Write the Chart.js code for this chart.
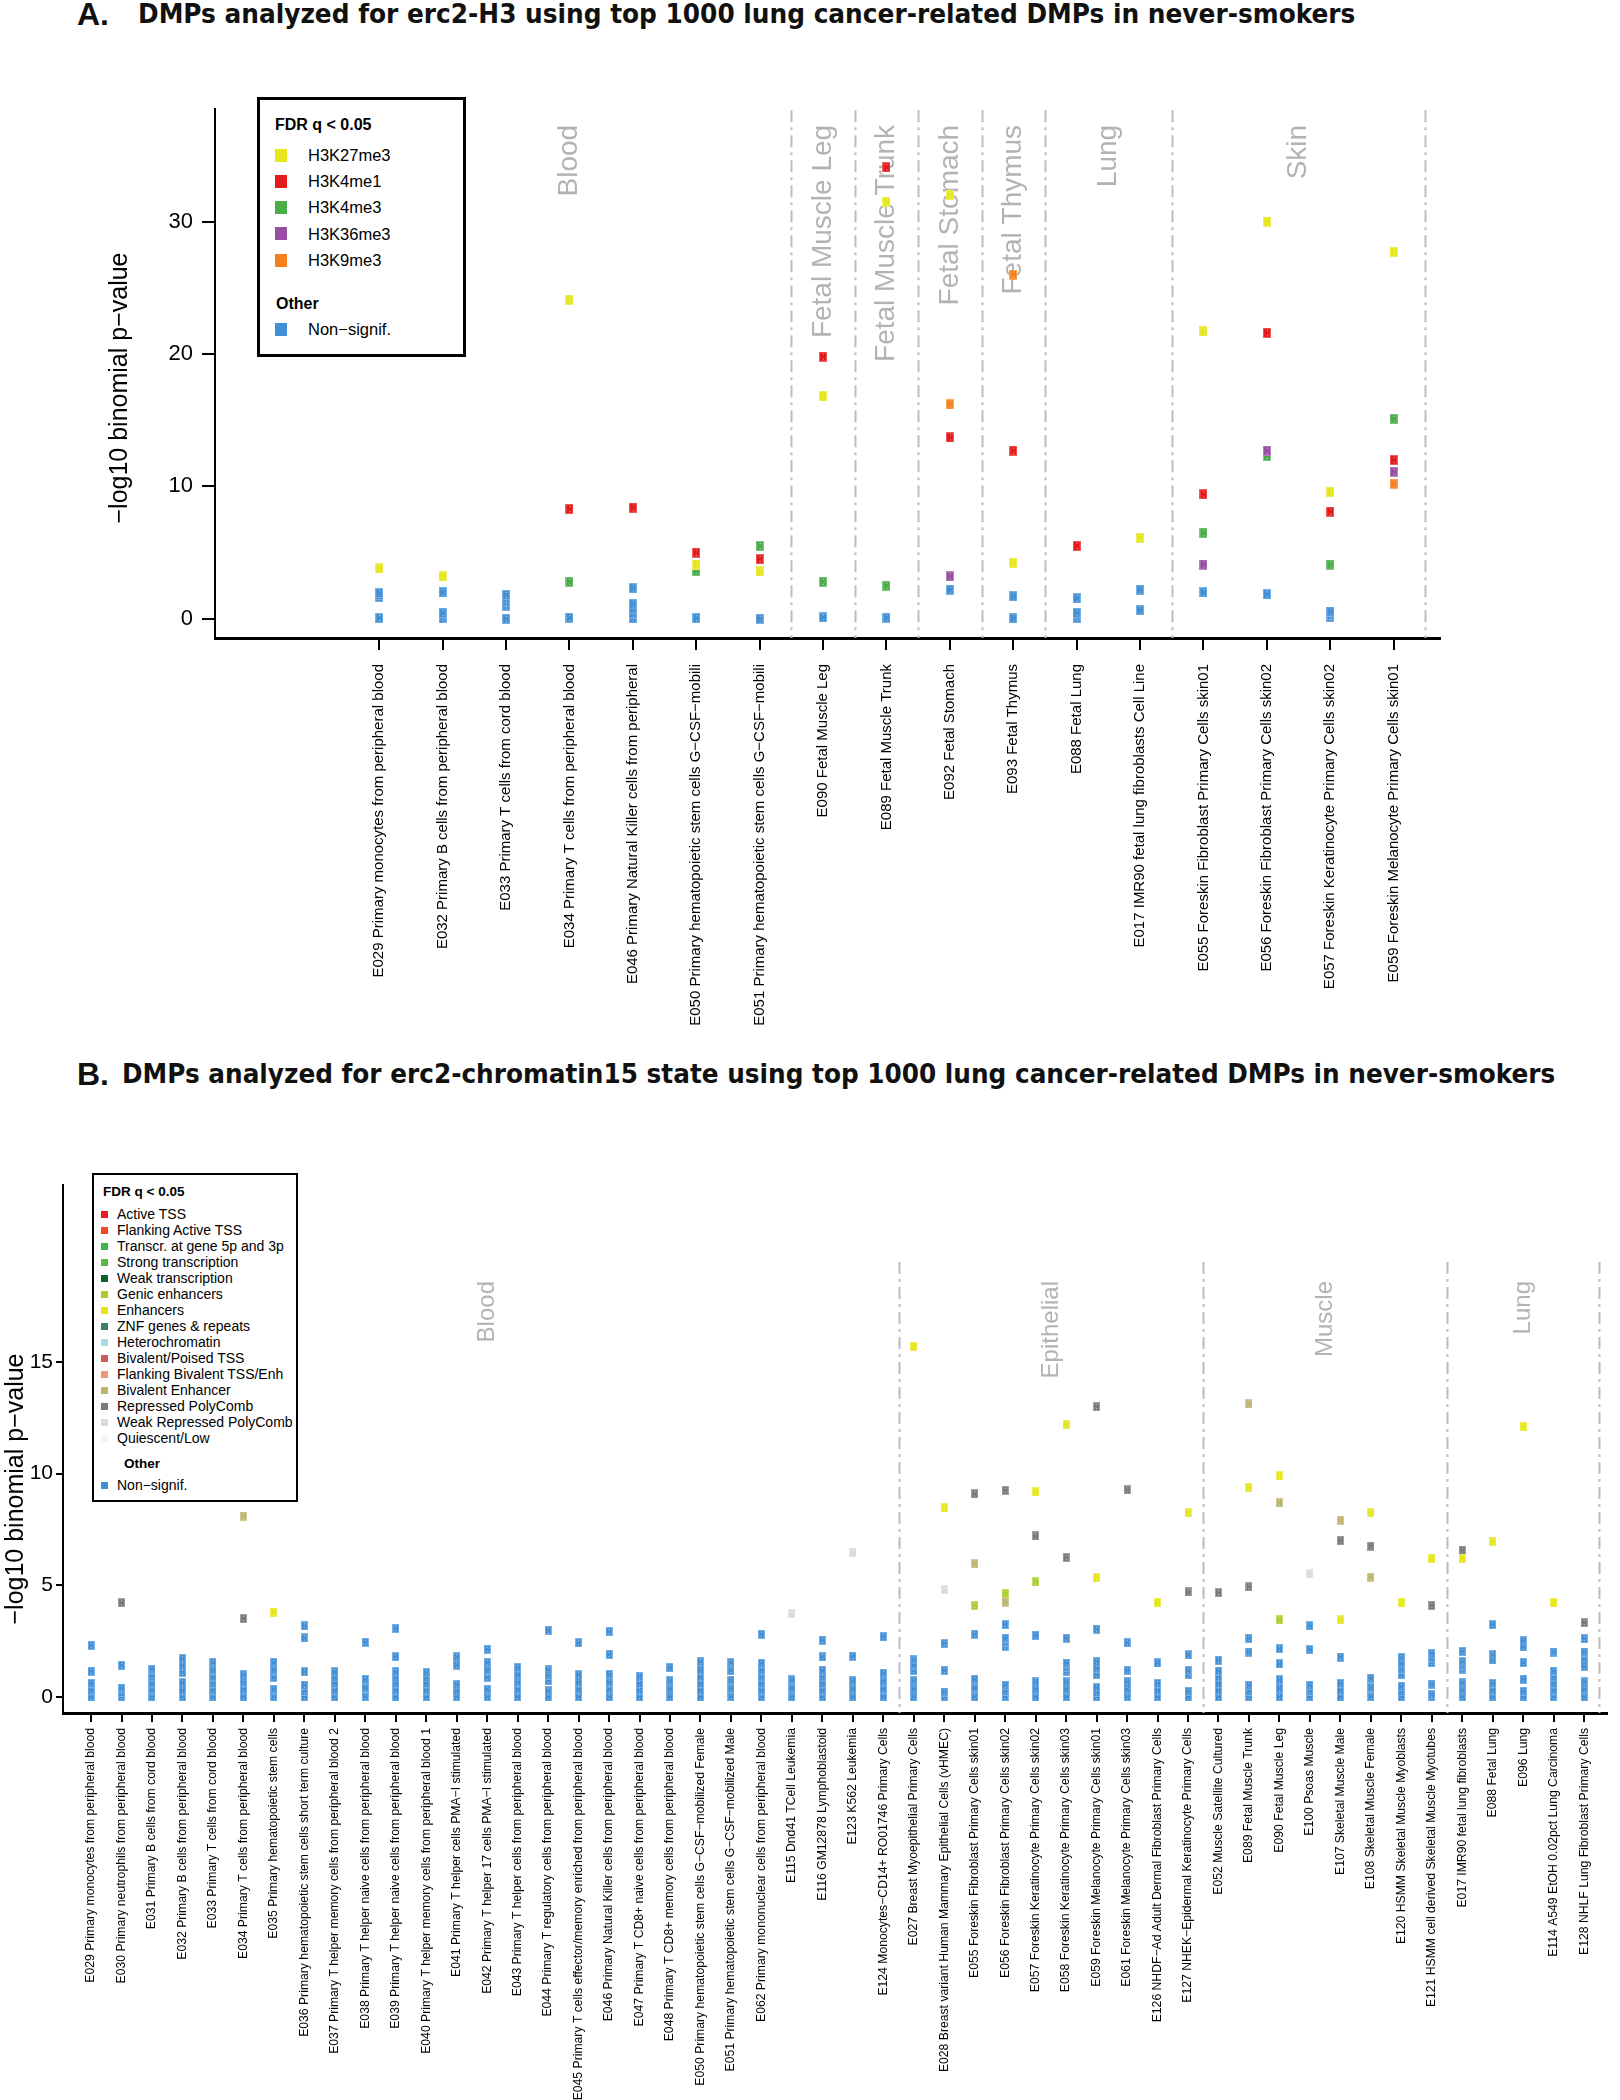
<!DOCTYPE html>
<html>
<head>
<meta charset="utf-8">
<script src="https://cdn.jsdelivr.net/npm/chart.js@4.4.1/dist/chart.umd.min.js"></script>
<style>
    body { margin: 0; background: #fff; width: 1620px; height: 2100px; position: relative; overflow: hidden;
           font-family: 'Liberation Sans', Arial, sans-serif; color: #000; }
    canvas { position: absolute; left: 0; }
    #chartA { top: 0; }
    #chartB { top: 1040px; }
    .heading { position: absolute; white-space: nowrap; font-weight: bold; color: #111; transform-origin: 0 0; }
    .narrow { font-family: 'Liberation Sans Narrow', 'DejaVu Sans Condensed', 'Liberation Sans', Arial, sans-serif; }
    .legend { position: absolute; box-sizing: border-box; border: 3px solid #000; background: #fff; }
    .legend div { position: absolute; white-space: nowrap; }
</style>
</head>
<body>
<div class="heading" style="left:77px; top:-2px; font-size:32px; line-height:32px;">A.</div>
<div class="heading narrow" id="titleA" style="left:138px; top:0px; font-size:27px; line-height:27px;">DMPs analyzed for erc2-H3 using top 1000 lung cancer-related DMPs in never-smokers</div>
<div class="heading" style="left:77px; top:1058px; font-size:32px; line-height:32px;">B.</div>
<div class="heading narrow" id="titleB" style="left:122px; top:1060px; font-size:27px; line-height:27px;">DMPs analyzed for erc2-chromatin15 state using top 1000 lung cancer-related DMPs in never-smokers</div>

<canvas id="chartA" width="1620" height="1035"></canvas>
<canvas id="chartB" width="1620" height="1060"></canvas>
<div class="legend" id="legendA"></div>
<div class="legend" id="legendB"></div>

<script>
// ---------- Panel A data (erc2-H3) ----------
const samplesA = [
    'E029 Primary monocytes from peripheral blood',
    'E032 Primary B cells from peripheral blood',
    'E033 Primary T cells from cord blood',
    'E034 Primary T cells from peripheral blood',
    'E046 Primary Natural Killer cells from peripheral',
    'E050 Primary hematopoietic stem cells G\u2212CSF\u2212mobili',
    'E051 Primary hematopoietic stem cells G\u2212CSF\u2212mobili',
    'E090 Fetal Muscle Leg',
    'E089 Fetal Muscle Trunk',
    'E092 Fetal Stomach',
    'E093 Fetal Thymus',
    'E088 Fetal Lung',
    'E017 IMR90 fetal lung fibroblasts Cell Line',
    'E055 Foreskin Fibroblast Primary Cells skin01',
    'E056 Foreskin Fibroblast Primary Cells skin02',
    'E057 Foreskin Keratinocyte Primary Cells skin02',
    'E059 Foreskin Melanocyte Primary Cells skin01'
];
const groupNamesA = ['Blood', 'Fetal Muscle Leg', 'Fetal Muscle Trunk', 'Fetal Stomach', 'Fetal Thymus', 'Lung', 'Skin'];
const groupSizesA = [7, 1, 1, 1, 1, 2, 4];
const yTicksA = [0, 10, 20, 30];
const marksA = ['H3K27me3', 'H3K4me1', 'H3K4me3', 'H3K36me3', 'H3K9me3'];

const _ = null;
const h3k27me3A = [3.8, 3.2, _, 24.1, _, 4.1, 3.6, 16.8, 31.5, 32.0, 4.2, _, 6.1, 21.7, 30.0, 9.6, 27.7];
const h3k4me1A  = [_, _, _, 8.3, 8.4, 5.0, 4.5, 19.8, 34.1, 13.7, 12.7, 5.5, _, 9.4, 21.6, 8.1, 12.0];
const h3k4me3A  = [_, _, _, 2.8, _, 3.6, 5.5, 2.8, 2.5, _, _, _, _, 6.5, 12.3, 4.1, 15.1];
const h3k36me3A = [_, _, _, _, _, _, _, _, _, 3.2, _, _, _, 4.1, 12.7, _, 11.1];
const h3k9me3A  = [_, _, _, _, _, _, _, _, _, 16.2, 26.0, _, _, _, _, _, 10.2];
const nonSignifA = [
    [0.05, 1.65, 1.8, 1.95], [0.05, 0.25, 0.45, 2.0], [0, 1.0, 1.3, 1.55, 1.8], [0.08],
    [0.05, 0.4, 0.75, 1.1, 2.3], [0.05], [0], [0.1], [0.08], [2.2], [0.03, 1.7],
    [0.05, 0.25, 0.45, 1.55], [0.65, 2.2], [2.0], [1.85], [0.1, 0.3, 0.55], []
];

// ---------- Panel B data (erc2-chromatin15) ----------
const samplesB = [
    'E029 Primary monocytes from peripheral blood',
    'E030 Primary neutrophils from peripheral blood',
    'E031 Primary B cells from cord blood',
    'E032 Primary B cells from peripheral blood',
    'E033 Primary T cells from cord blood',
    'E034 Primary T cells from peripheral blood',
    'E035 Primary hematopoietic stem cells',
    'E036 Primary hematopoietic stem cells short term culture',
    'E037 Primary T helper memory cells from peripheral blood 2',
    'E038 Primary T helper naive cells from peripheral blood',
    'E039 Primary T helper naive cells from peripheral blood',
    'E040 Primary T helper memory cells from peripheral blood 1',
    'E041 Primary T helper cells PMA\u2212I stimulated',
    'E042 Primary T helper 17 cells PMA\u2212I stimulated',
    'E043 Primary T helper cells from peripheral blood',
    'E044 Primary T regulatory cells from peripheral blood',
    'E045 Primary T cells effector/memory enriched from peripheral blood',
    'E046 Primary Natural Killer cells from peripheral blood',
    'E047 Primary T CD8+ naive cells from peripheral blood',
    'E048 Primary T CD8+ memory cells from peripheral blood',
    'E050 Primary hematopoietic stem cells G\u2212CSF\u2212mobilized Female',
    'E051 Primary hematopoietic stem cells G\u2212CSF\u2212mobilized Male',
    'E062 Primary mononuclear cells from peripheral blood',
    'E115 Dnd41 TCell Leukemia',
    'E116 GM12878 Lymphoblastoid',
    'E123 K562 Leukemia',
    'E124 Monocytes\u2212CD14+ RO01746 Primary Cells',
    'E027 Breast Myoepithelial Primary Cells',
    'E028 Breast variant Human Mammary Epithelial Cells (vHMEC)',
    'E055 Foreskin Fibroblast Primary Cells skin01',
    'E056 Foreskin Fibroblast Primary Cells skin02',
    'E057 Foreskin Keratinocyte Primary Cells skin02',
    'E058 Foreskin Keratinocyte Primary Cells skin03',
    'E059 Foreskin Melanocyte Primary Cells skin01',
    'E061 Foreskin Melanocyte Primary Cells skin03',
    'E126 NHDF\u2212Ad Adult Dermal Fibroblast Primary Cells',
    'E127 NHEK\u2212Epidermal Keratinocyte Primary Cells',
    'E052 Muscle Satellite Cultured',
    'E089 Fetal Muscle Trunk',
    'E090 Fetal Muscle Leg',
    'E100 Psoas Muscle',
    'E107 Skeletal Muscle Male',
    'E108 Skeletal Muscle Female',
    'E120 HSMM Skeletal Muscle Myoblasts',
    'E121 HSMM cell derived Skeletal Muscle Myotubes',
    'E017 IMR90 fetal lung fibroblasts',
    'E088 Fetal Lung',
    'E096 Lung',
    'E114 A549 EtOH 0.02pct Lung Carcinoma',
    'E128 NHLF Lung Fibroblast Primary Cells'
];
const groupNamesB = ['Blood', 'Epithelial', 'Muscle', 'Lung'];
const groupSizesB = [27, 10, 8, 5];
const yTicksB = [0, 5, 10, 15];
const statesB = [
    'Active TSS', 'Flanking Active TSS', 'Transcr. at gene 5p and 3p', 'Strong transcription',
    'Weak transcription', 'Genic enhancers', 'Enhancers', 'ZNF genes & repeats', 'Heterochromatin',
    'Bivalent/Poised TSS', 'Flanking Bivalent TSS/Enh', 'Bivalent Enhancer', 'Repressed PolyComb',
    'Weak Repressed PolyComb', 'Quiescent/Low'
];

const enhancersB = [
    _, _, _, _, _, _, 3.8, _, _, _,
    _, _, _, _, _, _, _, _, _, _,
    _, _, _, _, _, _, _, 15.7, 8.49, _,
    _, 9.18, 12.2, 5.34, _, 4.22, 8.24, _, 9.37, 9.9,
    _, 3.46, 8.24, 4.21, 6.19, 6.2, 6.97, 12.1, 4.22, _
];
const genicEnhB = [
    _, _, _, _, _, _, _, _, _, _,
    _, _, _, _, _, _, _, _, _, _,
    _, _, _, _, _, _, _, _, _, 4.1,
    4.64, 5.15, _, _, _, _, _, _, _, 3.46,
    _, _, _, _, _, _, _, _, _, _
];
const bivEnhB = [
    _, _, _, _, _, 8.1, _, _, _, _,
    _, _, _, _, _, _, _, _, _, _,
    _, _, _, _, _, _, _, _, _, 5.97,
    4.25, _, _, _, _, _, _, _, 13.13, 8.69,
    _, 7.91, 5.37, _, _, _, _, _, _, _
];
const reprPolyCombB = [
    _, 4.22, _, _, _, 3.51, _, _, _, _,
    _, _, _, _, _, _, _, _, _, _,
    _, _, _, _, _, _, _, _, _, 9.09,
    9.25, 7.21, 6.24, 13.0, 9.27, _, 4.7, 4.67, 4.93, _,
    _, 7.0, 6.76, _, 4.1, 6.58, _, _, _, 3.33
];
const weakReprPolyCombB = [
    _, _, _, _, _, _, _, _, _, _,
    _, _, _, _, _, _, _, _, _, _,
    _, _, _, 3.73, _, 6.46, _, _, 4.79, _,
    _, _, _, _, _, _, _, _, _, _,
    5.52, _, _, _, _, _, _, _, _, _
];
const nonSignifB = [
    [0, 0.3, 0.6, 1.15, 2.31], [0, 0.2, 0.39, 1.42], [0, 0.3, 0.6, 0.9, 1.24],
    [0, 0.3, 0.64, 1.1, 1.4, 1.72], [0, 0.3, 0.6, 0.9, 1.2, 1.54], [0, 0.33, 0.66, 0.99],
    [0, 0.34, 0.88, 1.2, 1.54], [0, 0.26, 0.52, 1.13, 2.64, 3.18], [0, 0.3, 0.6, 0.85, 1.13],
    [0, 0.4, 0.79, 2.45], [0, 0.3, 0.6, 0.85, 1.13, 1.81, 3.07], [0, 0.3, 0.6, 0.85, 1.09],
    [0, 0.27, 0.54, 1.43, 1.79], [0, 0.34, 0.88, 1.2, 1.54, 2.13], [0, 0.33, 0.66, 0.99, 1.31],
    [0, 0.27, 0.73, 0.97, 1.21, 2.99], [0, 0.33, 0.66, 0.99, 2.43], [0, 0.33, 0.66, 1.01, 1.9, 2.93],
    [0, 0.3, 0.6, 0.9], [0, 0.36, 0.72, 1.31], [0, 0.3, 0.6, 0.9, 1.2, 1.57],
    [0, 0.37, 0.75, 1.18, 1.54], [0, 0.3, 0.6, 0.9, 1.2, 1.51, 2.81], [0, 0.38, 0.76],
    [0, 0.3, 0.6, 0.9, 1.19, 1.79, 2.54], [0, 0.36, 0.72, 1.82], [0, 0.35, 0.7, 1.06, 2.69],
    [0, 0.36, 0.72, 1.18, 1.42, 1.66], [0, 0.22, 1.19, 2.39], [0, 0.4, 0.79, 2.81],
    [0, 0.26, 0.52, 2.27, 2.45, 2.63, 3.24], [0, 0.33, 0.67, 2.76], [0, 0.33, 0.67, 1.15, 1.33, 1.51, 2.63],
    [0, 0.2, 0.41, 0.99, 1.29, 1.58, 3.03], [0, 0.33, 0.67, 1.19, 2.43], [0, 0.3, 0.6, 1.52],
    [0, 0.25, 0.99, 1.18, 1.88], [0, 0.3, 0.6, 0.9, 1.16, 1.64], [0, 0.26, 0.52, 2.01, 2.63],
    [0, 0.38, 0.76, 1.48, 2.16], [0, 0.26, 0.52, 2.12, 3.18], [0, 0.3, 0.6, 1.78],
    [0, 0.42, 0.84], [0, 0.23, 0.46, 0.99, 1.25, 1.5, 1.76], [0, 0.1, 0.57, 1.54, 1.74, 1.94],
    [0, 0.32, 0.63, 1.25, 1.41, 1.57, 2.04], [0, 0.3, 0.6, 1.66, 1.88, 3.24], [0, 0.25, 0.79, 1.54, 2.25, 2.51],
    [0, 0.3, 0.6, 0.9, 1.16, 2.01], [0, 0.33, 0.67, 1.37, 1.7, 2.01, 2.61]
];

// ---------- Styles ----------
const FONT = "'Liberation Sans', Arial, Helvetica, sans-serif";
const BLUE = '#4190d6';
const colorsA = ['#e6e61a', '#e41a1c', '#4aad48', '#984ea3', '#f8801c'];
const stateColorsB = ['#ec1c24', '#f04a24', '#3db54a', '#58b947', '#0d5f2c', '#aacd2f', '#e6e616', '#3a7f6b',
    '#a8dce4', '#cc5a5a', '#ea9679', '#bcb46b', '#7a7a7a', '#dadada', '#f3f5f7'];

Chart.defaults.font.family = FONT;

// Small filled rectangle used as point symbol
function makeMark(color, w, h) {
    const c = document.createElement('canvas');
    c.width = w;
    c.height = h;
    const g = c.getContext('2d');
    g.fillStyle = color;
    g.fillRect(0, 0, w, h);
    g.strokeStyle = 'rgba(255,255,255,0.3)';
    g.lineWidth = 1;
    g.strokeRect(0.5, 0.5, w - 1, h - 1);
    g.fillStyle = 'rgba(255,255,255,0.6)';
    g.fillRect(Math.floor(w / 2), 2, 1, 1);
    g.fillRect(Math.floor(w / 2), h - 3, 1, 1);
    return c;
}

function toPoints(values) {
    return values.map((v, i) => (v === null ? null : { x: i, y: v })).filter(p => p);
}

function toStacks(lists) {
    const pts = [];
    lists.forEach((vals, i) => vals.forEach(v => pts.push({ x: i, y: v })));
    return pts;
}

function markDataset(label, values, color, w, h, order) {
    return {
        label: label,
        data: values,
        pointStyle: makeMark(color, w, h),
        pointRadius: 5,
        order: order
    };
}

// Group separators, group names and y title
const groupPlugin = {
    id: 'groups',
    beforeDatasetsDraw(chart, args, opts) {
        const { ctx, chartArea, scales: { x, y } } = chart;
        ctx.save();
        let start = 0;
        opts.sizes.forEach((n, k) => {
            const end = start + n;
            const sepX = Math.round(x.getPixelForValue(end - 0.5)) + 0.5;
            ctx.strokeStyle = '#bdbdbd';
            ctx.lineWidth = 2;
            ctx.setLineDash([12, 5, 3, 5]);
            ctx.beginPath();
            ctx.moveTo(sepX, y.getPixelForValue(opts.lineTop));
            ctx.lineTo(sepX, chartArea.bottom);
            ctx.stroke();

            const cx = x.getPixelForValue((start + end - 1) / 2);
            ctx.translate(cx, y.getPixelForValue(opts.labelTop));
            ctx.rotate(-Math.PI / 2);
            ctx.fillStyle = '#b3b3b3';
            ctx.font = opts.labelSize + 'px ' + FONT;
            ctx.textAlign = 'right';
            ctx.textBaseline = 'middle';
            ctx.fillText(opts.names[k], 0, 0);
            ctx.setTransform(1, 0, 0, 1, 0, 0);
            start = end;
        });
        ctx.setLineDash([]);
        ctx.translate(opts.titleX, opts.titleY);
        ctx.rotate(-Math.PI / 2);
        ctx.fillStyle = '#000';
        ctx.font = opts.titleSize + 'px ' + FONT;
        ctx.textAlign = 'center';
        ctx.textBaseline = 'middle';
        ctx.fillText('\u2212log10 binomial p\u2212value', 0, 0);
        ctx.restore();
    }
};

function makeChart(id, cfg) {
    return new Chart(document.getElementById(id), {
        type: 'scatter',
        data: { datasets: cfg.datasets },
        options: {
            responsive: false,
            animation: false,
            events: [],
            layout: { padding: cfg.padding },
            plugins: { legend: { display: false }, tooltip: { enabled: false }, groups: cfg.groups },
            scales: {
                x: {
                    type: 'linear',
                    min: cfg.xMin,
                    max: cfg.xMax,
                    afterFit: s => { s.height = cfg.xHeight; },
                    afterBuildTicks: s => { s.ticks = cfg.labels.map((l, i) => ({ value: i })); },
                    ticks: {
                        autoSkip: false, minRotation: 90, maxRotation: 90, padding: cfg.xPad,
                        color: '#000', font: { size: cfg.xFont },
                        callback: v => cfg.labels[v]
                    },
                    grid: { drawOnChartArea: false, drawTicks: true, tickLength: cfg.xTick, color: '#000', lineWidth: 2 },
                    border: { display: true, color: '#000', width: 3 }
                },
                y: {
                    min: cfg.yMin,
                    max: cfg.yMax,
                    afterFit: s => { s.width = cfg.yWidth; },
                    afterBuildTicks: s => { s.ticks = cfg.yTicks.map(v => ({ value: v })); },
                    ticks: { padding: cfg.yPad, color: '#000', font: { size: cfg.yFont } },
                    grid: { drawOnChartArea: false, drawTicks: true, tickLength: cfg.yTick, color: '#000', lineWidth: 2 },
                    border: { display: true, color: '#000', width: 2 }
                }
            }
        },
        plugins: [groupPlugin]
    });
}

// ---------- Panel A chart ----------
const seriesA = [h3k27me3A, h3k4me1A, h3k4me3A, h3k36me3A, h3k9me3A];
const orderA = [1, 2, 5, 3, 4];
const datasetsA = seriesA.map((s, k) => markDataset(marksA[k], toPoints(s), colorsA[k], 8, 10, orderA[k]));
datasetsA.push(markDataset('Non\u2212signif.', toStacks(nonSignifA), BLUE, 8, 10, 10));

makeChart('chartA', {
    datasets: datasetsA,
    labels: samplesA,
    padding: { left: 0, top: 109, right: 180, bottom: 0 },
    xMin: -2.59, xMax: 16.73, xHeight: 397, xPad: 14, xTick: 12, xFont: 15,
    yMin: -1.45, yMax: 38.5, yWidth: 215, yTicks: yTicksA, yPad: 9, yTick: 13, yFont: 22,
    groups: { sizes: groupSizesA, names: groupNamesA, lineTop: 38.4, labelTop: 37.3, labelSize: 28,
              titleX: 120, titleY: 388, titleSize: 25 }
});

// ---------- Panel B chart ----------
const datasetsB = [
    markDataset(statesB[6], toPoints(enhancersB), stateColorsB[6], 7, 9, 1),
    markDataset(statesB[5], toPoints(genicEnhB), stateColorsB[5], 7, 9, 3),
    markDataset(statesB[11], toPoints(bivEnhB), stateColorsB[11], 7, 9, 2),
    markDataset(statesB[12], toPoints(reprPolyCombB), stateColorsB[12], 7, 9, 4),
    markDataset(statesB[13], toPoints(weakReprPolyCombB), stateColorsB[13], 7, 9, 5),
    markDataset('Non\u2212signif.', toStacks(nonSignifB), BLUE, 7, 9, 10)
];

makeChart('chartB', {
    datasets: datasetsB,
    labels: samplesB,
    padding: { left: 0, top: 145, right: 13, bottom: 0 },
    xMin: -0.92, xMax: 49.75, xHeight: 387, xPad: 6, xTick: 9, xFont: 12.2,
    yMin: -0.72, yMax: 22.93, yWidth: 63, yTicks: yTicksB, yPad: 3, yTick: 7, yFont: 21,
    groups: { sizes: groupSizesB, names: groupNamesB, lineTop: 19.48, labelTop: 18.63, labelSize: 24,
              titleX: 16, titleY: 449, titleSize: 25 }
});

// ---------- Legends ----------
function addText(box, text, left, centerY, size, bold) {
    const d = document.createElement('div');
    d.textContent = text;
    d.style.left = left + 'px';
    d.style.top = (centerY - size / 2) + 'px';
    d.style.fontSize = size + 'px';
    d.style.lineHeight = size + 'px';
    if (bold) d.style.fontWeight = 'bold';
    box.appendChild(d);
}

function addSwatch(box, color, left, centerY, w, h) {
    const d = document.createElement('div');
    d.style.left = left + 'px';
    d.style.top = (centerY - h / 2) + 'px';
    d.style.width = w + 'px';
    d.style.height = h + 'px';
    d.style.background = color;
    box.appendChild(d);
}

function buildLegend(id, spec) {
    const box = document.getElementById(id);
    Object.assign(box.style, {
        left: spec.box[0] + 'px', top: spec.box[1] + 'px',
        width: spec.box[2] + 'px', height: spec.box[3] + 'px', borderWidth: spec.border + 'px'
    });
    addText(box, 'FDR q < 0.05', spec.headX, spec.headY, spec.headSize, true);
    spec.names.forEach((name, k) => {
        const cy = spec.rowY + k * spec.rowStep;
        addSwatch(box, spec.colors[k], spec.swX, cy, spec.swW, spec.swH);
        addText(box, name, spec.textX, cy, spec.textSize, false);
    });
    addText(box, 'Other', spec.otherX, spec.otherY, spec.headSize, true);
    addSwatch(box, BLUE, spec.swX, spec.nonSigY, spec.swW, spec.swH);
    addText(box, 'Non\u2212signif.', spec.textX, spec.nonSigY, spec.textSize, false);
}

buildLegend('legendA', {
    box: [257, 97, 209, 260], border: 3,
    headX: 15, headY: 25, headSize: 16,
    names: marksA, colors: colorsA,
    rowY: 55, rowStep: 26.3, swX: 15, swW: 12, swH: 13, textX: 48, textSize: 16.5,
    otherX: 16, otherY: 204, nonSigY: 229
});

buildLegend('legendB', {
    box: [92, 1173, 206, 329], border: 2,
    headX: 9, headY: 17, headSize: 13.5,
    names: statesB, colors: stateColorsB,
    rowY: 39, rowStep: 16, swX: 7, swW: 7, swH: 7, textX: 23, textSize: 14,
    otherX: 30, otherY: 289, nonSigY: 310
});

// ---------- Title widths ----------
function fitWidth(id, target) {
    const el = document.getElementById(id);
    el.style.transform = 'scaleX(' + (target / el.offsetWidth) + ')';
}
fitWidth('titleA', 1217);
fitWidth('titleB', 1433);
</script>
</body>
</html>
